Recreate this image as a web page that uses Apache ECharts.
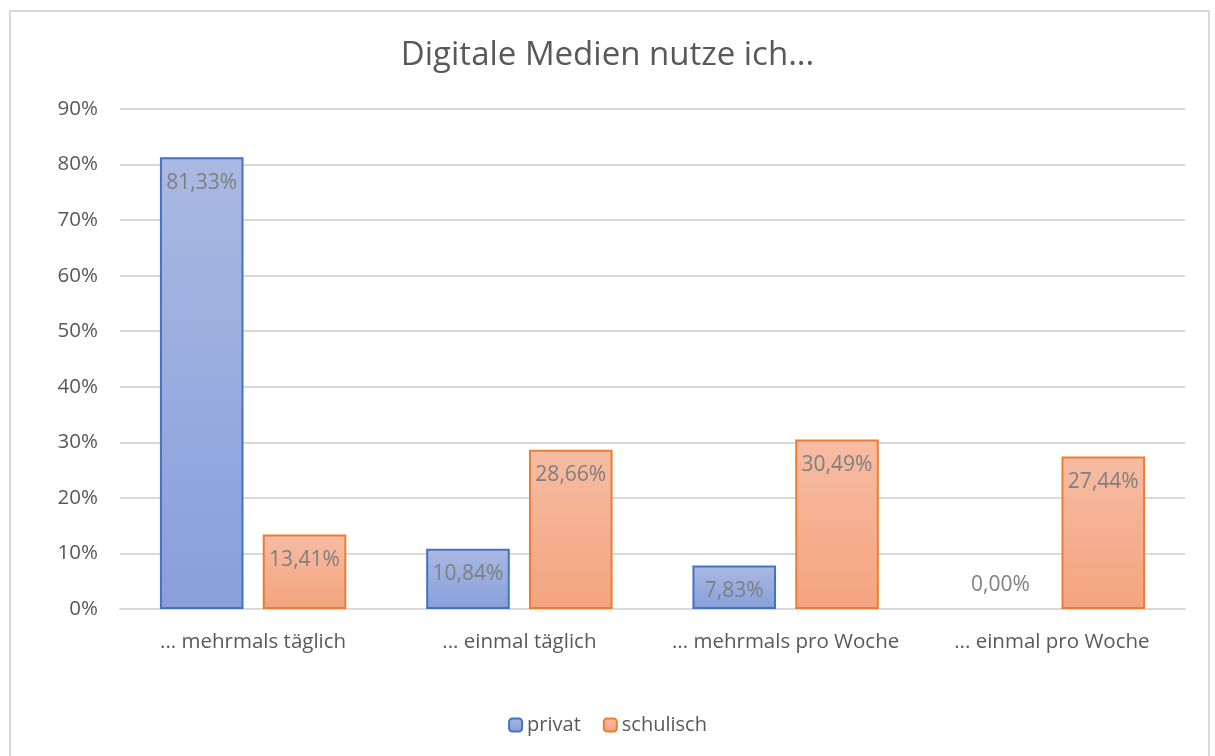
<!DOCTYPE html>
<html><head><meta charset="utf-8">
<script src="https://cdn.jsdelivr.net/npm/echarts@6/dist/echarts.min.js"></script>
<style>
html,body{margin:0;padding:0;background:#fff;}
#frame{position:absolute;left:9px;top:10px;width:1201px;height:760px;border:2px solid #d9d9d9;box-sizing:border-box;}
#chart{position:absolute;left:0;top:0;width:1215px;height:756px;}
</style></head>
<body>
<div id="frame"></div>
<div id="chart"></div>
<script>
const title = 'Digitale Medien nutze ich...';
const categories = ['... mehrmals täglich', '... einmal täglich', '... mehrmals pro Woche', '... einmal pro Woche'];
const seriesNames = ['privat', 'schulisch'];
const privat = [81.33, 10.84, 7.83, 0.00];
const schulisch = [13.41, 28.66, 30.49, 27.44];
const yTicks = [0, 10, 20, 30, 40, 50, 60, 70, 80, 90];

const FONT = 'Open Sans';
function fmt(v){ return v.toFixed(2).replace('.', ',') + '%'; }
function mkData(arr){
  return arr.map(v => v === 0
    ? {value: v, itemStyle: {borderWidth: 0}, label: {position: 'top', distance: 13}}
    : v);
}
function grad(top, bottom){
  return new echarts.graphic.LinearGradient(0,0,0,1,[{offset:0,color:top},{offset:1,color:bottom}]);
}
const chart = echarts.init(document.getElementById('chart'));
const labelCfg = {show:true, position:'insideTop', distance:15, color:'#7f7f7f', fontSize:21, fontFamily:FONT,
  formatter: p => fmt(p.value)};
chart.setOption({
  animation:false,
  title:{text:title, left:'center', top:34, textStyle:{color:'#595959', fontSize:33, fontWeight:'normal', fontFamily:FONT}},
  grid:{left:120, right:30, top:109, bottom:147, containLabel:false},
  legend:{bottom:16, left:'center', itemWidth:13, itemHeight:13, itemGap:22,
    textStyle:{color:'#595959', fontSize:20, fontFamily:FONT}, data:seriesNames},
  xAxis:{type:'category', data:categories,
    axisLine:{lineStyle:{color:'#d9d9d9', width:2}}, axisTick:{show:false},
    axisLabel:{color:'#595959', fontSize:20.5, fontFamily:FONT, margin:23, interval:0}},
  yAxis:{type:'value', min:yTicks[0], max:yTicks[yTicks.length-1], interval:10,
    axisLine:{show:false}, axisTick:{show:false},
    splitLine:{lineStyle:{color:'#d9d9d9', width:2}},
    axisLabel:{color:'#595959', fontSize:20.5, fontFamily:FONT, margin:22, formatter: v => v + '%'}},
  series:[
    {name:seriesNames[0], type:'bar', data:mkData(privat), barGap:'23%', barCategoryGap:'30%',
      itemStyle:{color:grad('#a9b9e2','#889fdb'), borderColor:'#4472c4', borderWidth:2}, label:labelCfg},
    {name:seriesNames[1], type:'bar', data:mkData(schulisch),
      itemStyle:{color:grad('#f6bca3','#f4a47f'), borderColor:'#ed7d31', borderWidth:2}, label:labelCfg}
  ]
});
</script>
</body></html>
